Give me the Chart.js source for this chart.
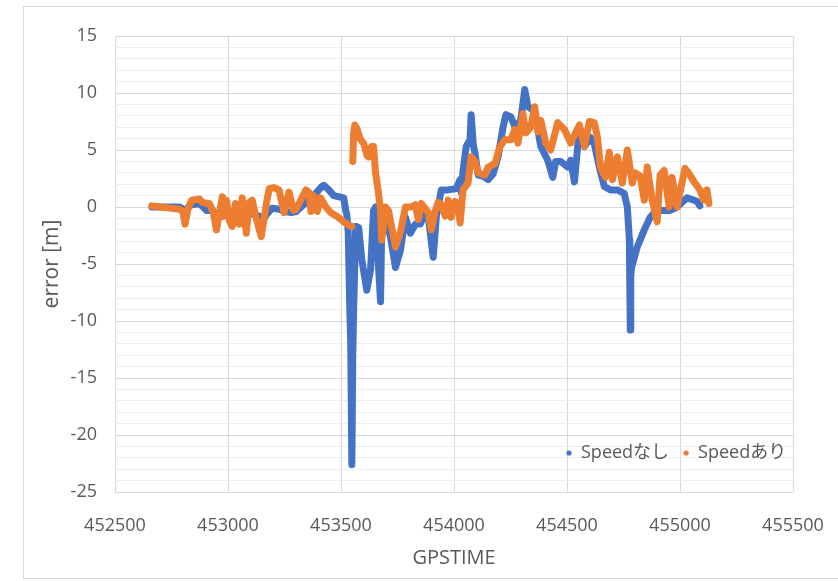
<!DOCTYPE html>
<html>
<head>
<meta charset="utf-8">
<script src="https://cdn.jsdelivr.net/npm/chart.js@4/dist/chart.umd.min.js"></script>
<style>
  html, body { margin: 0; padding: 0; background: #ffffff; }
  #wrap { width: 838px; height: 581px; position: relative; }
</style>
</head>
<body>
<div id="wrap"><canvas id="c" width="838" height="581"></canvas></div>
<script>
// ---- data ----
const seriesNames = ['Speedなし', 'Speedあり'];

const gpsTimeNone = [452663,452786,452810,452839,452874,452905,452931,452949,452975,452993,453019,453050,453081,453107,453138,453151,453169,453195,453226,453257,453279,453301,453345,453380,453415,453424,453446,453468,453490,453512,453521,453526,453532,453539,453543,453548,453552,453556,453565,453578,453592,453614,453631,453644,453653,453658,453675,453680,453697,453719,453741,453763,453785,453807,453829,453851,453873,453886,453908,453922,453944,453974,454005,454010,454027,454032,454040,454054,454071,454076,454085,454093,454107,454129,454151,454173,454195,454217,454230,454252,454274,454296,454313,454327,454349,454371,454384,454415,454437,454450,454472,454503,454516,454533,454555,454577,454604,454621,454643,454665,454692,454723,454753,454767,454776,454778,454780,454782,454786,454811,454842,454868,454886,454912,454956,454987,455031,455075,455088];
const errorNone = [0.0,0.0,-0.3,0.2,0.3,-0.3,-0.3,-0.6,-0.8,-0.4,-0.8,-0.5,-0.4,-0.6,-0.8,-1.3,-0.7,-0.1,-0.2,-0.4,-0.5,-0.4,0.4,1.0,1.8,1.9,1.5,1.0,0.9,0.8,-0.3,-0.7,-2.2,-9.0,-12.0,-22.6,-13.0,-9.0,-1.7,-1.8,-4.6,-7.3,-5.5,-0.3,0.0,-2.5,-8.3,-2.0,-1.1,-2.6,-5.3,-3.8,-0.9,-2.3,-1.5,-1.5,-0.5,-0.8,-4.4,-0.8,1.5,1.5,1.6,1.6,2.4,1.3,3.2,5.3,5.9,8.1,5.5,4.7,2.8,2.7,2.4,2.9,4.4,7.0,8.1,7.9,6.8,7.7,10.3,8.8,8.5,6.8,5.3,4.1,2.6,4.0,4.0,3.5,4.1,2.2,7.0,5.3,6.1,5.5,3.5,1.8,1.5,1.5,1.2,0.0,-2.9,-7.0,-10.8,-6.0,-5.3,-3.5,-2.0,-0.9,-0.5,-0.3,-0.3,0.0,0.8,0.5,0.1];

const gpsTimeWith = [452663,452700,452742,452786,452800,452810,452822,452839,452874,452887,452918,452935,452949,452962,452975,452984,452993,453006,453019,453033,453050,453063,453081,453094,453107,453125,453147,453169,453182,453204,453226,453248,453270,453290,453301,453345,453358,453367,453380,453395,453410,453433,453455,453481,453512,453534,453548,453550,453552,453556,453561,453570,453578,453587,453600,453615,453622,453635,453644,453653,453666,453675,453680,453690,453697,453710,453741,453763,453785,453812,453829,453842,453856,453886,453900,453915,453930,453944,453961,453974,453988,454005,454018,454027,454040,454062,454076,454093,454107,454137,454151,454181,454203,454225,454252,454269,454283,454305,454318,454340,454357,454371,454384,454406,454428,454459,454489,454516,454555,454577,454599,454621,454635,454648,454670,454687,454701,454723,454745,454767,454789,454802,454824,454842,454855,454877,454899,454912,454930,454952,454965,454987,455022,455044,455066,455088,455106,455119,455128];
const errorWith = [0.1,0.0,-0.1,-0.2,-0.4,-1.5,-0.2,0.6,0.7,0.4,0.3,-0.5,-2.0,-0.5,0.9,-0.8,0.6,-1.2,-1.7,0.3,-1.5,0.8,-2.3,0.4,0.6,-1.0,-2.6,0.2,1.6,1.7,1.5,-0.5,1.3,-0.3,-0.2,1.5,1.3,-0.4,1.0,-0.4,0.8,0.0,-0.5,-0.8,-1.3,-1.6,-1.7,null,4.0,6.5,7.2,6.9,6.4,5.9,5.6,4.5,4.4,5.3,5.3,3.0,1.2,-0.3,-2.9,-1.5,0.0,-0.3,-3.5,-2.2,0.0,0.0,0.2,-1.1,0.3,-0.5,-2.0,-0.5,0.4,0.2,-0.8,0.6,-0.9,0.5,0.1,-1.4,1.5,2.1,4.4,4.0,3.0,2.8,3.5,3.8,5.3,5.9,5.9,6.8,5.6,8.2,6.5,7.0,8.8,6.6,7.6,5.6,5.0,7.4,6.8,5.6,7.2,5.3,7.5,7.4,6.1,3.5,2.6,4.8,2.4,4.4,2.1,5.0,2.1,3.0,2.7,0.6,3.5,0.6,-1.3,2.8,3.2,0.0,2.6,0.0,3.4,2.8,2.1,1.5,0.6,1.5,0.3];

const xTickValues = [452500, 453000, 453500, 454000, 454500, 455000, 455500];
const yMajorTicks = [-25, -20, -15, -10, -5, 0, 5, 10, 15];

// ---- styling ----
const FONT = "'Open Sans', 'Noto Sans CJK JP', sans-serif";
const TEXT = '#595959';
const BLUE = '#4472C4';
const ORANGE = '#ED7D31';

function toPoints(xs, ys) { return xs.map((x, i) => ({ x: x, y: ys[i] })); }

const frame = {
  id: 'frame',
  beforeDraw(chart) {
    const ctx = chart.ctx;
    ctx.save();
    ctx.fillStyle = '#ffffff';
    ctx.fillRect(0, 0, chart.width, chart.height);
    ctx.strokeStyle = '#D9D9D9';
    ctx.lineWidth = 1;
    ctx.strokeRect(23.5, 6.5, 900, 572);
    ctx.restore();
  }
};

const insideLegend = {
  id: 'insideLegend',
  afterDraw(chart) {
    const ctx = chart.ctx;
    const a = chart.chartArea;
    ctx.save();
    ctx.font = '18px ' + FONT;
    ctx.textBaseline = 'middle';
    ctx.textAlign = 'left';
    const y = a.bottom - 39;
    let x = a.right - 224;
    chart.data.datasets.forEach((ds) => {
      ctx.fillStyle = ds.borderColor;
      ctx.beginPath();
      ctx.arc(x, y, 2.6, 0, Math.PI * 2);
      ctx.fill();
      ctx.fillStyle = TEXT;
      ctx.fillText(ds.label, x + 12, y);
      x += 12 + ctx.measureText(ds.label).width + 17;
    });
    ctx.restore();
  }
};

new Chart(document.getElementById('c'), {
  type: 'scatter',
  data: {
    datasets: [
      { label: seriesNames[0], data: toPoints(gpsTimeNone, errorNone), borderColor: BLUE, backgroundColor: BLUE, order: 1 },
      { label: seriesNames[1], data: toPoints(gpsTimeWith, errorWith), borderColor: ORANGE, backgroundColor: ORANGE, order: 0 }
    ]
  },
  options: {
    responsive: false,
    animation: false,
    devicePixelRatio: 1,
    layout: { padding: { left: 24, top: 36, right: 45, bottom: 0 } },
    datasets: {
      scatter: {
        showLine: true, spanGaps: false, pointRadius: 0, pointHoverRadius: 0,
        borderWidth: 7, borderCapStyle: 'round', borderJoinStyle: 'round', tension: 0
      }
    },
    plugins: {
      legend: { display: false },
      tooltip: { enabled: false }
    },
    scales: {
      x: {
        type: 'linear', min: 452500, max: 455500,
        afterFit(s) { s.height = 89; s.paddingLeft = 0; s.paddingRight = 0; },
        afterBuildTicks(s) { s.ticks = xTickValues.map(v => ({ value: v })); },
        ticks: { color: TEXT, font: { family: FONT, size: 18 }, padding: 23, maxRotation: 0, autoSkip: false,
                 callback: (v) => String(v) },
        grid: { color: '#D9D9D9', lineWidth: 1, drawTicks: false },
        border: { display: false },
        title: { display: true, text: 'GPSTIME', color: TEXT, font: { family: FONT, size: 20 }, padding: { top: 0, bottom: 11 } }
      },
      y: {
        type: 'linear', min: -25, max: 15,
        afterFit(s) { s.width = 91; },
        ticks: { stepSize: 1, autoSkip: false, color: TEXT, font: { family: FONT, size: 18 }, padding: 18,
                 callback: (v) => (yMajorTicks.includes(v) ? String(v) : '') },
        grid: {
          drawTicks: false, lineWidth: 1,
          color: (c) => (c.tick && yMajorTicks.includes(c.tick.value) ? '#D9D9D9' : '#EDEDED')
        },
        border: { display: false },
        title: { display: true, text: 'error [m]', color: TEXT, font: { family: FONT, size: 21 }, padding: { top: 15, bottom: 0 } }
      }
    }
  },
  plugins: [frame, insideLegend]
});
</script>
</body>
</html>
